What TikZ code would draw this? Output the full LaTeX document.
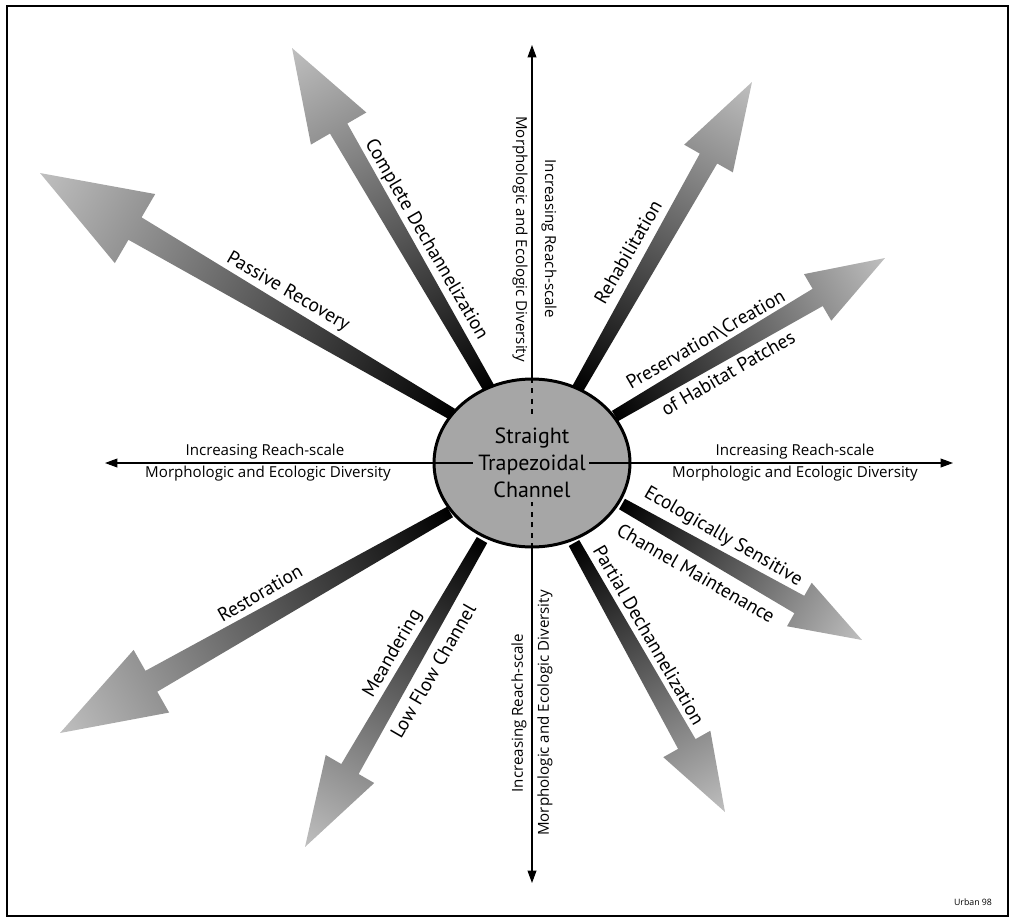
\documentclass[tikz,border=0pt]{standalone}
\usepackage{fontspec}
\setmainfont{Open Sans}
\newfontfamily\handfont{PT Sans}
\usepackage{tikz}
\usetikzlibrary{shapes,arrows,arrows.meta,positioning}

% shaded arrow: start x, start y, tip x, tip y, head length, head half width, neck half width
\newcommand{\gradarrow}[7]{%
  \pgfmathsetmacro{\arrang}{atan2(-(#4-#2),#3-#1)}%
  \pgfmathsetmacro{\arrlen}{veclen(#3-#1,#4-#2)}%
  \pgfmathsetmacro{\arrneck}{\arrlen-#5}%
  \begin{scope}[transform canvas={shift={(#1,#2)},rotate=\arrang}]
    \shade[left color=black, middle color=black!55, right color=black!25]
      (0,-6) -- (\arrneck,-#7) -- (\arrneck,-#6) -- (\arrlen,0)
      -- (\arrneck,#6) -- (\arrneck,#7) -- (0,6) -- cycle;
  \end{scope}}

\begin{document}
\begin{tikzpicture}[
    x=0.02cm, y=-0.02cm,
    axis/.style={-{Triangle[length=7pt,width=5pt]}, line width=0.6pt},
    inaxis/.style={line width=0.6pt},
    lab/.style={font=\handfont\fontsize{11}{13}\selectfont, inner sep=1pt},
    axlab/.style={font=\fontsize{8.6}{10}\selectfont, inner sep=1pt},
    chanbox/.style={ellipse, draw, line width=1.7pt, fill=black!35, minimum width=3.92cm, minimum height=3.36cm, inner sep=0pt, align=center, font=\handfont\fontsize{12.5}{15.5}\selectfont}
]
\useasboundingbox (0,0) rectangle (1014,920);
\draw[line width=1pt] (7,6) rectangle (1008,916);

% Shaded arrows
\gradarrow{452}{414}{40}{173}{110}{40}{13}
\gradarrow{490}{390}{292}{48}{93}{32}{10}
\gradarrow{577}{390}{752}{82}{88}{28}{10}
\gradarrow{615}{416}{885}{258}{78}{27}{10}
\gradarrow{622}{504}{862}{640}{72}{25}{10}
\gradarrow{574}{543}{725}{812}{78}{27}{10}
\gradarrow{482}{540}{305}{847}{90}{28}{10}
\gradarrow{450}{512}{60}{733}{105}{36}{12}

% Axes
\coordinate (ntip) at (532,45);
\coordinate (stip) at (532,883);
\coordinate (wtip) at (105,463);
\coordinate (etip) at (953,463);
\node[chanbox] (chan) at (532,463) {Straight\\Trapezoidal\\Channel};
\draw[axis] (chan.north) -- (ntip);
\draw[axis] (chan.south) -- (stip);
\draw[axis] (chan.west) -- (wtip);
\draw[axis] (chan.east) -- (etip);
\draw[inaxis, dashed] (chan.north) -- ++(0,36);
\draw[inaxis, dashed] (chan.south) -- ++(0,-46);
\draw[inaxis] (chan.west) -- ++(40,0);
\draw[inaxis] (chan.east) -- ++(-42,0);

% Axis labels
\node[axlab] (wup) at (265,452) {Increasing Reach-scale};
\node[axlab] (wdn) at (268,474) {Morphologic and Ecologic Diversity};
\node[axlab] (eup) at (795,452) {Increasing Reach-scale};
\node[axlab] (edn) at (795,474) {Morphologic and Ecologic Diversity};
\node[axlab, rotate=-90] (nup) at (549,239) {Increasing Reach-scale};
\node[axlab, rotate=-90] (ndn) at (520,239) {Morphologic and Ecologic Diversity};
\node[axlab, rotate=90] (sup) at (519,713) {Increasing Reach-scale};
\node[axlab, rotate=90] (sdn) at (545,713) {Morphologic and Ecologic Diversity};

% Arrow labels
\node[lab, rotate=-30] (passlab) at (288,292) {Passive Recovery};
\node[lab, rotate=-60] (complab) at (426,240) {Complete Dechannelization};
\node[lab, rotate=60] (rehablab) at (628,252) {Rehabilitation};
\node[lab, rotate=30] (preslab) at (706,340) {Preservation\textbackslash Creation};
\node[lab, rotate=30] (habitlab) at (728,373) {of Habitat Patches};
\node[lab, rotate=-30] (ecollab) at (723,537) {Ecologically Sensitive};
\node[lab, rotate=-30] (maintlab) at (696,573) {Channel Maintenance};
\node[lab, rotate=-60] (partlab) at (649,635) {Partial Dechannelization};
\node[lab, rotate=60] (meanlab) at (393,654) {Meandering};
\node[lab, rotate=60] (lowlab) at (433,671) {Low Flow Channel};
\node[lab, rotate=30] (restlab) at (260,593) {Restoration};

\node[font=\fontsize{5}{6}\selectfont, inner sep=0pt] (sig) at (973,902) {Urban 98};
\end{tikzpicture}
\end{document}
